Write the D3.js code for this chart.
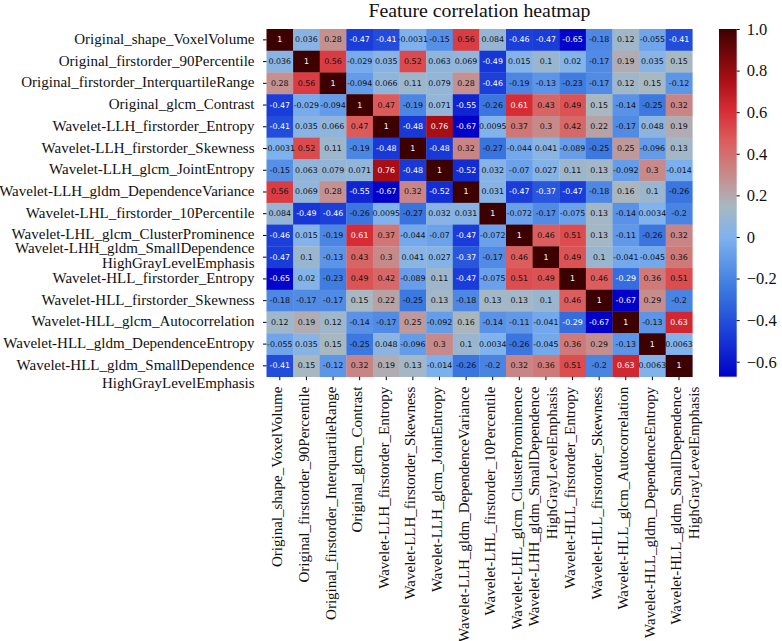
<!DOCTYPE html>
<html>
<head>
<meta charset="utf-8">
<script src="https://cdn.jsdelivr.net/npm/d3@7"></script>
<style>
  body { margin: 0; background: #fff; }
  .label text { font-family: "Liberation Serif", serif; font-size: 15px; fill: #111; }
  .cell-text { font-family: "DejaVu Sans", sans-serif; font-size: 7.9px; text-anchor: middle; dominant-baseline: central; }
  .title { font-family: "Liberation Serif", serif; font-size: 19.8px; text-anchor: middle; fill: #111; }
  .cbar text { font-family: "Liberation Serif", serif; font-size: 16.5px; fill: #111; }
</style>
</head>
<body>
<svg width="782" height="641"></svg>
<script>
const features = [
  ['Original_shape_VoxelVolume'],
  ['Original_firstorder_90Percentile'],
  ['Original_firstorder_InterquartileRange'],
  ['Original_glcm_Contrast'],
  ['Wavelet-LLH_firstorder_Entropy'],
  ['Wavelet-LLH_firstorder_Skewness'],
  ['Wavelet-LLH_glcm_JointEntropy'],
  ['Wavelet-LLH_gldm_DependenceVariance'],
  ['Wavelet-LHL_firstorder_10Percentile'],
  ['Wavelet-LHL_glcm_ClusterProminence'],
  ['Wavelet-LHH_gldm_SmallDependence', 'HighGrayLevelEmphasis'],
  ['Wavelet-HLL_firstorder_Entropy'],
  ['Wavelet-HLL_firstorder_Skewness'],
  ['Wavelet-HLL_glcm_Autocorrelation'],
  ['Wavelet-HLL_gldm_DependenceEntropy'],
  ['Wavelet-HLL_gldm_SmallDependence', 'HighGrayLevelEmphasis']
];

const correlations = [
  [1, 0.036, 0.28, -0.47, -0.41, -0.0031, -0.15, 0.56, 0.084, -0.46, -0.47, -0.65, -0.18, 0.12, -0.055, -0.41],
  [0.036, 1, 0.56, -0.029, 0.035, 0.52, 0.063, 0.069, -0.49, 0.015, 0.1, 0.02, -0.17, 0.19, 0.035, 0.15],
  [0.28, 0.56, 1, -0.094, 0.066, 0.11, 0.079, 0.28, -0.46, -0.19, -0.13, -0.23, -0.17, 0.12, 0.15, -0.12],
  [-0.47, -0.029, -0.094, 1, 0.47, -0.19, 0.071, -0.55, -0.26, 0.61, 0.43, 0.49, 0.15, -0.14, -0.25, 0.32],
  [-0.41, 0.035, 0.066, 0.47, 1, -0.48, 0.76, -0.67, 0.0095, 0.37, 0.3, 0.42, 0.22, -0.17, 0.048, 0.19],
  [-0.0031, 0.52, 0.11, -0.19, -0.48, 1, -0.48, 0.32, -0.27, -0.044, 0.041, -0.089, -0.25, 0.25, -0.096, 0.13],
  [-0.15, 0.063, 0.079, 0.071, 0.76, -0.48, 1, -0.52, 0.032, -0.07, 0.027, 0.11, 0.13, -0.092, 0.3, -0.014],
  [0.56, 0.069, 0.28, -0.55, -0.67, 0.32, -0.52, 1, 0.031, -0.47, -0.37, -0.47, -0.18, 0.16, 0.1, -0.26],
  [0.084, -0.49, -0.46, -0.26, 0.0095, -0.27, 0.032, 0.031, 1, -0.072, -0.17, -0.075, 0.13, -0.14, 0.0034, -0.2],
  [-0.46, 0.015, -0.19, 0.61, 0.37, -0.044, -0.07, -0.47, -0.072, 1, 0.46, 0.51, 0.13, -0.11, -0.26, 0.32],
  [-0.47, 0.1, -0.13, 0.43, 0.3, 0.041, 0.027, -0.37, -0.17, 0.46, 1, 0.49, 0.1, -0.041, -0.045, 0.36],
  [-0.65, 0.02, -0.23, 0.49, 0.42, -0.089, 0.11, -0.47, -0.075, 0.51, 0.49, 1, 0.46, -0.29, 0.36, 0.51],
  [-0.18, -0.17, -0.17, 0.15, 0.22, -0.25, 0.13, -0.18, 0.13, 0.13, 0.1, 0.46, 1, -0.67, 0.29, -0.2],
  [0.12, 0.19, 0.12, -0.14, -0.17, 0.25, -0.092, 0.16, -0.14, -0.11, -0.041, -0.29, -0.67, 1, -0.13, 0.63],
  [-0.055, 0.035, 0.15, -0.25, 0.048, -0.096, 0.3, 0.1, 0.0034, -0.26, -0.045, 0.36, 0.29, -0.13, 1, 0.0063],
  [-0.41, 0.15, -0.12, 0.32, 0.19, 0.13, -0.014, -0.26, -0.2, 0.32, 0.36, 0.51, -0.2, 0.63, 0.0063, 1]
];

const colorStops = [-0.67, -0.47, -0.25, 0, 0.15, 0.28, 0.47, 0.61, 0.76, 1];
const colorValues = ['#0000c8', '#1a3cd8', '#3b78e0', '#7fb2ee', '#a8b8c0', '#c49090', '#dd5a5a', '#d62c35', '#a80f15', '#3c0000'];
const cbarTicks = [1, 0.8, 0.6, 0.4, 0.2, 0, -0.2, -0.4, -0.6];

const svg = d3.select('svg');
const plot = { left: 266.5, right: 692.3, top: 29, bottom: 376.7 };
const indices = d3.range(features.length);

const xScale = d3.scaleBand().domain(indices).range([plot.left, plot.right]);
const yScale = d3.scaleBand().domain(indices).range([plot.top, plot.bottom]);
const colorScale = d3.scaleLinear().domain(colorStops).range(colorValues).clamp(true);

// relative luminance, decides white or black annotation
const luminance = value => {
  const { r, g, b } = d3.rgb(colorScale(value));
  const [lr, lg, lb] = [r, g, b].map(c => {
    const s = c / 255;
    return s <= 0.03928 ? s / 12.92 : Math.pow((s + 0.055) / 1.055, 2.4);
  });
  return 0.2126 * lr + 0.7152 * lg + 0.0722 * lb;
};

const cells = correlations.flatMap((row, r) => row.map((value, c) => ({ r, c, value })));

svg.append('text')
  .attr('class', 'title')
  .attr('x', 479.5)
  .attr('y', 17)
  .text('Feature correlation heatmap');

svg.append('g').selectAll('rect')
  .data(cells)
  .enter()
  .append('rect')
    .attr('x', d => xScale(d.c))
    .attr('y', d => yScale(d.r))
    .attr('width', xScale.bandwidth() + 0.3)
    .attr('height', yScale.bandwidth() + 0.3)
    .attr('fill', d => colorScale(d.value));

svg.append('g').selectAll('text')
  .data(cells)
  .enter()
  .append('text')
    .attr('class', 'cell-text')
    .attr('x', d => xScale(d.c) + xScale.bandwidth() / 2)
    .attr('y', d => yScale(d.r) + yScale.bandwidth() / 2)
    .attr('fill', d => luminance(d.value) < 0.178 ? '#fff' : '#111')
    .text(d => d.value);

// y axis, labels filled in by hand because some wrap on two lines
const yAxisGroup = svg.append('g')
  .attr('class', 'label')
  .attr('transform', `translate(${plot.left}, 0)`)
  .call(d3.axisLeft(yScale).tickSize(3.5).tickFormat(''));
yAxisGroup.select('path.domain').remove();
yAxisGroup.selectAll('.tick text').each(function (i) {
  const lines = features[i];
  const start = i === 10 ? -8 : 0;
  const lineGap = i === 10 ? 15 : 18;
  d3.select(this)
    .attr('dy', null)
    .attr('text-anchor', 'end')
    .selectAll('tspan')
    .data(lines)
    .enter()
    .append('tspan')
      .attr('x', -12)
      .attr('y', (d, k) => start + k * lineGap + 4)
      .text(d => d);
});

// x axis, rotated labels
const xAxisGroup = svg.append('g')
  .attr('class', 'label')
  .attr('transform', `translate(0, ${plot.bottom})`)
  .call(d3.axisBottom(xScale).tickSize(3.5).tickFormat(''));
xAxisGroup.select('path.domain').remove();
xAxisGroup.selectAll('.tick text').each(function (i) {
  const lines = features[i];
  const start = i === 10 ? -10.5 : -1.5;
  d3.select(this)
    .attr('dy', null)
    .attr('y', null)
    .attr('text-anchor', 'end')
    .attr('transform', 'rotate(-90)')
    .selectAll('tspan')
    .data(lines)
    .enter()
    .append('tspan')
      .attr('x', -10)
      .attr('y', (d, k) => start + k * 18 + 4)
      .text(d => d);
});

// colour bar
const cbar = { left: 719, width: 17.7, top: 29, bottom: 376.7 };
const cbarScale = d3.scaleLinear().domain([-0.672, 1]).range([cbar.bottom, cbar.top]);
const gradient = svg.append('defs').append('linearGradient')
  .attr('id', 'cbar-gradient')
  .attr('x1', 0).attr('x2', 0).attr('y1', 1).attr('y2', 0);
gradient.selectAll('stop')
  .data(colorStops)
  .enter()
  .append('stop')
    .attr('offset', d => (d + 0.67) / 1.67)
    .attr('stop-color', d => colorScale(d));
svg.append('rect')
  .attr('x', cbar.left)
  .attr('y', cbar.top)
  .attr('width', cbar.width)
  .attr('height', cbar.bottom - cbar.top)
  .attr('fill', 'url(#cbar-gradient)');
const cbarGroup = svg.append('g')
  .attr('class', 'cbar')
  .attr('transform', `translate(${cbar.left + cbar.width}, 0)`)
  .call(d3.axisRight(cbarScale).tickValues(cbarTicks).tickSize(3).tickPadding(7)
    .tickFormat(d => d === 1 ? '1.0' : d === 0 ? '0' : d < 0 ? `\u2212${Math.abs(d)}` : `${d}`));
cbarGroup.select('path.domain').remove();
</script>
</body>
</html>
